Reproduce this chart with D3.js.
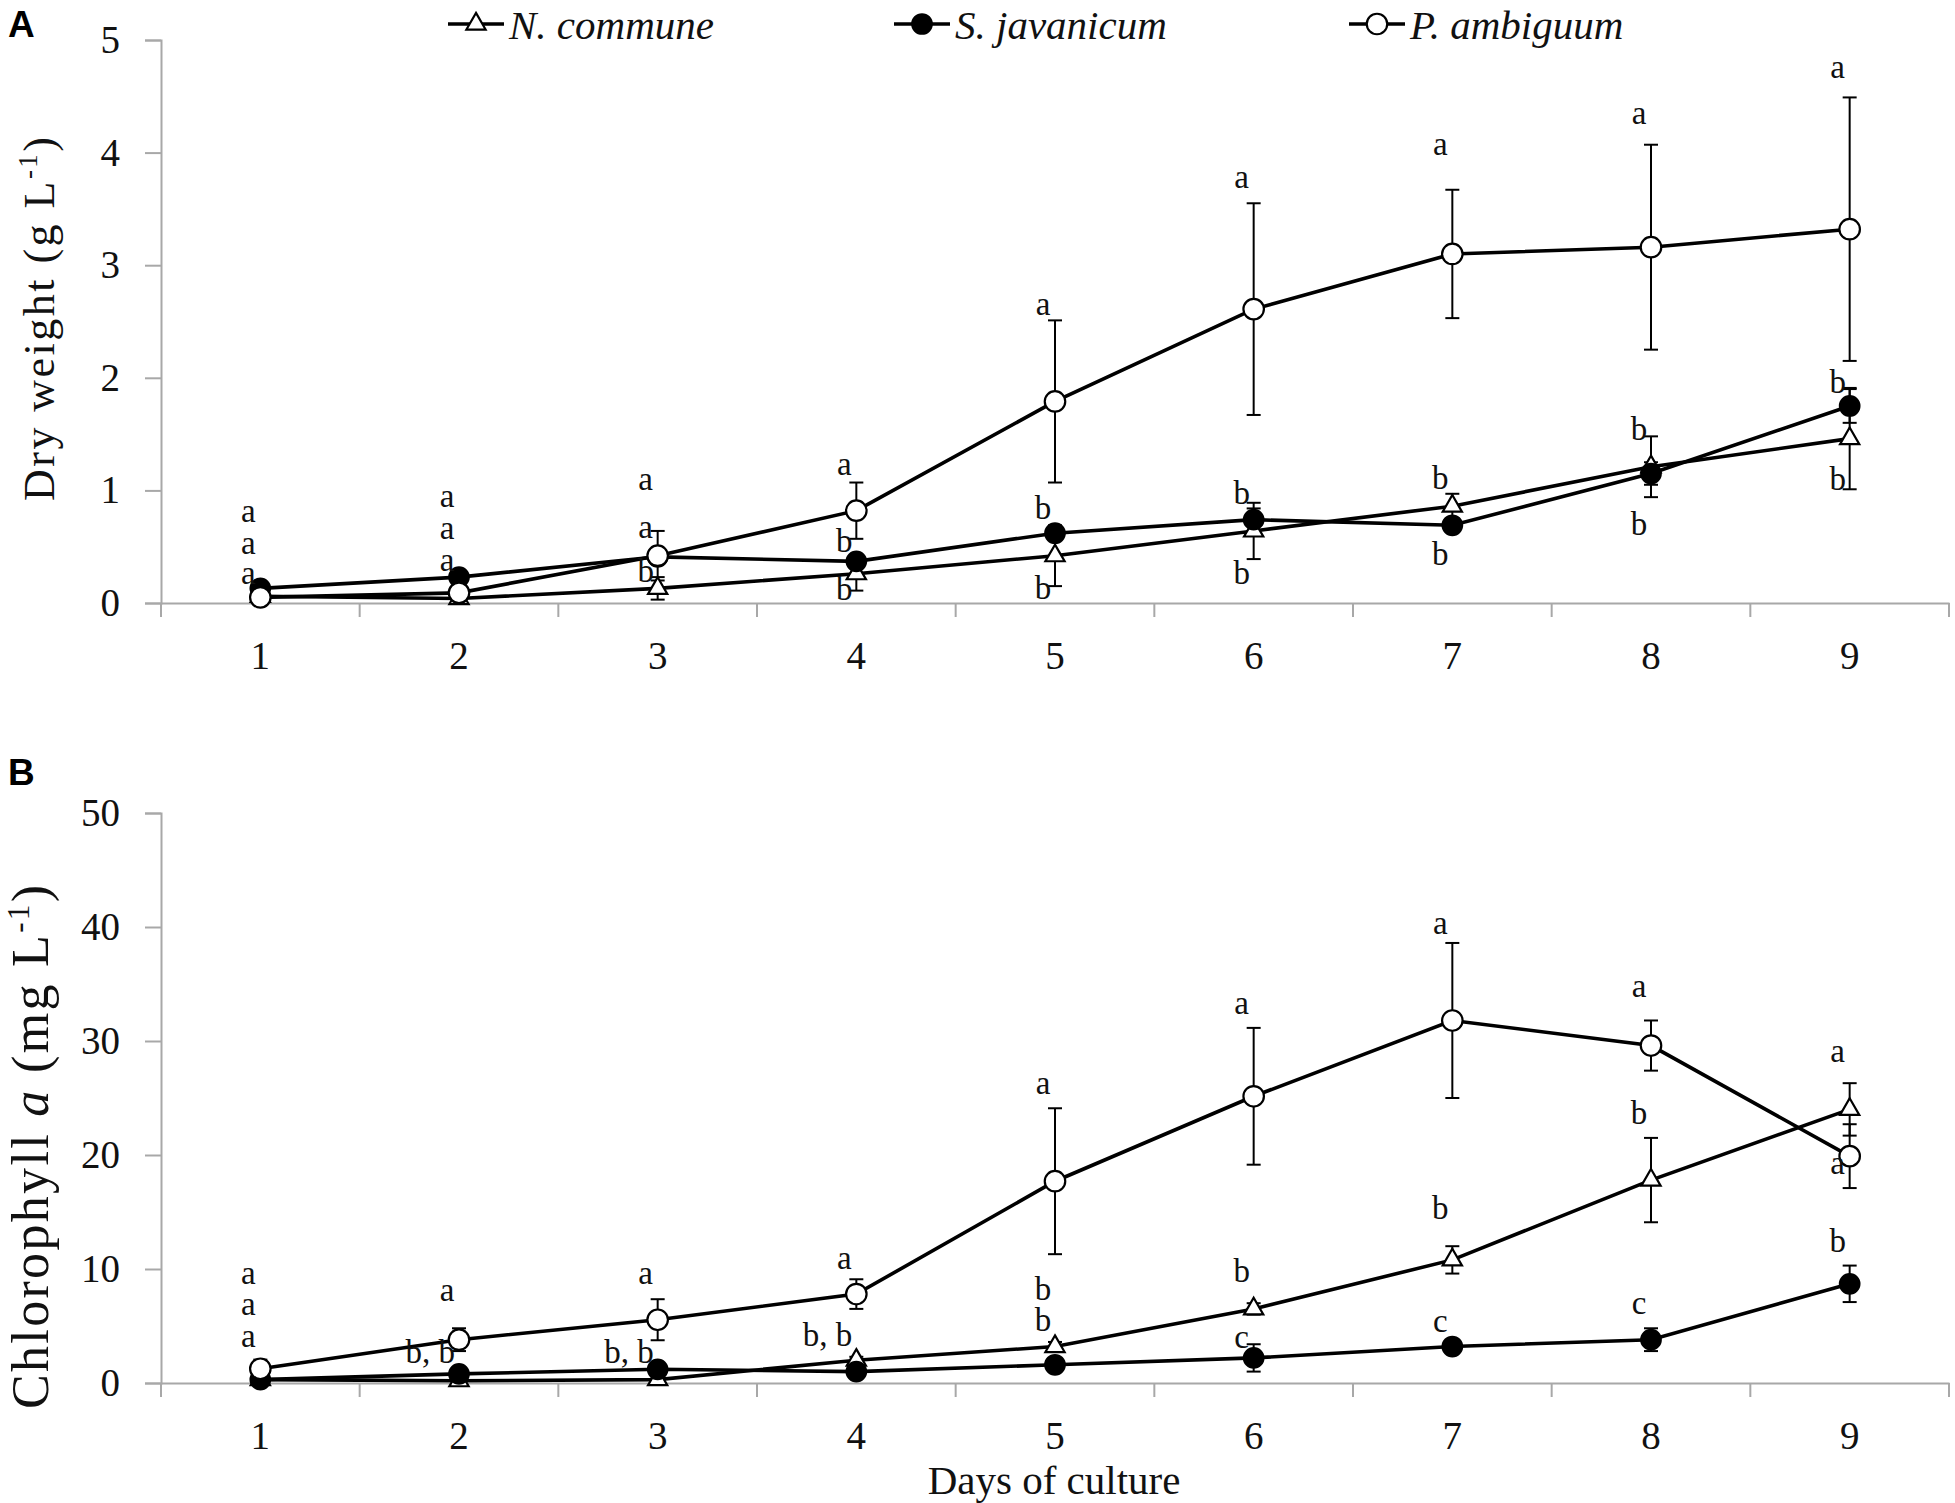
<!DOCTYPE html>
<html>
<head>
<meta charset="utf-8">
<script src="https://cdn.jsdelivr.net/npm/d3@7"></script>
<style>
  body { margin: 0; background: #fff; }
  svg { display: block; }
  .serif { font-family: "Liberation Serif", "Times New Roman", serif; }
</style>
</head>
<body>
<div id="chart"></div>
<script>
// Growth of three cyanobacteria over nine days of culture

// Data
const days = [1, 2, 3, 4, 5, 6, 7, 8, 9];
const species = ["N. commune", "S. javanicum", "P. ambiguum"];

// A: dry weight (g/L)
const dryNcommune    = [0.06, 0.04, 0.13, 0.26, 0.42, 0.64, 0.86, 1.21, 1.46];
const dryNcommuneErr = [0.02, 0.03, 0.10, 0.15, 0.27, 0.25, 0.11, 0.27, 0.45];
const drySjavanicum    = [0.13, 0.23, 0.41, 0.37, 0.62, 0.74, 0.69, 1.15, 1.75];
const drySjavanicumErr = [0.02, 0.03, 0.04, 0.05, 0.05, 0.10, 0.05, 0.10, 0.15];
const dryPambiguum    = [0.05, 0.09, 0.42, 0.82, 1.79, 2.61, 3.10, 3.16, 3.32];
const dryPambiguumErr = [0.03, 0.04, 0.22, 0.25, 0.72, 0.94, 0.57, 0.91, 1.17];

// B: chlorophyll a (mg/L)
const chlNcommune    = [0.3, 0.2, 0.3, 2.0, 3.2, 6.5, 10.8, 17.8, 24.0];
const chlNcommuneErr = [0.2, 0.2, 0.2, 0.3, 0.4, 0.5, 1.2, 3.7, 2.3];
const chlSjavanicum    = [0.3, 0.8, 1.2, 1.0, 1.6, 2.2, 3.2, 3.8, 8.7];
const chlSjavanicumErr = [0.2, 0.3, 0.3, 0.3, 0.3, 1.2, 0.4, 1.0, 1.6];
const chlPambiguum    = [1.25, 3.8, 5.55, 7.8, 17.7, 25.15, 31.8, 29.6, 19.9];
const chlPambiguumErr = [0.8, 1.0, 1.8, 1.3, 6.4, 6.0, 6.8, 2.2, 2.8];

// Tick labels
const ticksA = [0, 1, 2, 3, 4, 5];
const ticksB = [0, 10, 20, 30, 40, 50];

// Significance letters: [day, value level, letter]
const lettersA = [
  [1, 0.79, "a"], [1, 0.51, "a"], [1, 0.24, "a"],
  [2, 0.93, "a"], [2, 0.64, "a"], [2, 0.36, "a"],
  [3, 1.08, "a"], [3, 0.65, "a"], [3, 0.26, "b"],
  [4, 1.21, "a"], [4, 0.53, "b"], [4, 0.10, "b"],
  [5, 2.63, "a"], [5, 0.82, "b"], [5, 0.11, "b"],
  [6, 3.76, "a"], [6, 0.95, "b"], [6, 0.24, "b"],
  [7, 4.05, "a"], [7, 1.09, "b"], [7, 0.41, "b"],
  [8, 4.33, "a"], [8, 1.52, "b"], [8, 0.68, "b"],
  [9, 4.74, "a"], [9, 1.94, "b"], [9, 1.08, "b"]
];
const lettersB = [
  [1, 9.45, "a"], [1, 6.67, "a"], [1, 3.9, "a"],
  [2, 7.96, "a"], [2, 2.52, "b, b"],
  [3, 9.37, "a"], [3, 2.52, "b, b"],
  [4, 10.7, "a"], [4, 3.98, "b, b"],
  [5, 26.1, "a"], [5, 8.04, "b"], [5, 5.26, "b"],
  [6, 33.1, "a"], [6, 9.54, "b"], [6, 3.8, "c"],
  [7, 40.1, "a"], [7, 15.1, "b"], [7, 5.2, "c"],
  [8, 34.6, "a"], [8, 23.4, "b"], [8, 6.76, "c"],
  [9, 28.9, "a"], [9, 19.1, "a"], [9, 12.2, "b"]
];

// Dimensions
const width = 1955, height = 1503;
const marginLeft = 161, marginRight = 6;
const axisColor = "#a8a8a8";

const svg = d3.select("#chart")
  .append("svg")
    .attr("width", width)
    .attr("height", height)
    .attr("viewBox", [0, 0, width, height]);

const x = d3.scaleBand()
    .domain(days)
    .range([marginLeft, width - marginRight]);
const cx = d => x(d) + x.bandwidth() / 2;

function panel({top, bottom, max, ticks, series, letters, label, labelY, title, titlePos}) {
  const y = d3.scaleLinear().domain([0, max]).range([bottom, top]);
  const g = svg.append("g");

  // y axis
  g.append("g")
      .attr("transform", `translate(${marginLeft},0)`)
      .call(d3.axisLeft(y).tickValues(ticks).tickSize(16).tickPadding(25).tickFormat(d3.format("d")))
      .call(a => a.attr("font-family", null))
      .call(a => a.selectAll(".domain, .tick line").attr("stroke", axisColor).attr("stroke-width", 2))
      .call(a => a.selectAll("text").attr("class", "serif").attr("font-size", 39).attr("fill", "#111"));

  // x axis: labels at band centres, ticks at band edges
  g.append("g")
      .attr("transform", `translate(0,${bottom})`)
      .call(d3.axisBottom(x).tickSize(0).tickPadding(38))
      .call(a => a.attr("font-family", null))
      .call(a => a.select(".domain").attr("stroke", axisColor).attr("stroke-width", 2))
      .call(a => a.selectAll("text").attr("class", "serif").attr("font-size", 39).attr("fill", "#111"));
  g.append("g")
      .attr("stroke", axisColor)
      .attr("stroke-width", 2)
    .selectAll("line")
    .data(days.map(d => x(d)).concat([x.range()[1]]))
    .join("line")
      .attr("x1", d => d).attr("x2", d => d)
      .attr("y1", bottom).attr("y2", bottom + 14);

  // error bars
  series.forEach(s => {
    const eb = g.append("g").attr("stroke", "#000").attr("stroke-width", 2);
    s.values.forEach((v, i) => {
      const e = s.err[i], px = cx(days[i]);
      const y0 = y(Math.max(0, v - e)), y1 = y(v + e);
      eb.append("line").attr("x1", px).attr("x2", px).attr("y1", y0).attr("y2", y1);
      eb.append("line").attr("x1", px - 7).attr("x2", px + 7).attr("y1", y1).attr("y2", y1);
      if (v - e > 0)
        eb.append("line").attr("x1", px - 7).attr("x2", px + 7).attr("y1", y0).attr("y2", y0);
    });
  });

  // lines and markers
  const line = d3.line().x((d, i) => cx(days[i])).y(d => y(d));
  series.forEach(s => {
    g.append("path")
        .datum(s.values)
        .attr("fill", "none")
        .attr("stroke", "#000")
        .attr("stroke-width", 3.6)
        .attr("d", line);
  });
  series.forEach(s => {
    g.append("g")
      .selectAll("path")
      .data(s.values)
      .join("path")
        .attr("transform", (d, i) => `translate(${cx(days[i])},${y(d)})`)
        .attr("d", d3.symbol(s.symbol, s.size))
        .attr("fill", s.fill)
        .attr("stroke", "#000")
        .attr("stroke-width", 2.2);
  });

  // significance letters
  g.append("g")
      .attr("class", "serif")
      .attr("font-size", 33)
      .attr("fill", "#111")
    .selectAll("text")
    .data(letters)
    .join("text")
      .attr("x", d => d[2].length > 1 ? cx(d[0]) - 4 : cx(d[0]) - 12)
      .attr("y", d => y(d[1]))
      .attr("dy", "0.25em")
      .attr("text-anchor", d => d[2].length > 1 ? "end" : "middle")
      .text(d => d[2]);

  // panel letter
  svg.append("text")
      .attr("x", 8)
      .attr("y", labelY)
      .attr("font-family", "'Liberation Sans', Arial, sans-serif")
      .attr("font-weight", "bold")
      .attr("font-size", 37)
      .text(label);

  // y title
  const t = svg.append("text")
      .attr("class", "serif")
      .attr("transform", `translate(${titlePos.x},${titlePos.y}) rotate(-90)`)
      .attr("text-anchor", "middle")
      .attr("font-size", titlePos.size)
      .attr("fill", "#111");
  title(t);
  t.attr("textLength", titlePos.len).attr("lengthAdjust", "spacing");

  return y;
}

const mk = (values, err, symbol, fill, size) => ({values, err, symbol, fill, size});

panel({
  top: 40, bottom: 603, max: 5, ticks: ticksA,
  series: [
    mk(dryNcommune, dryNcommuneErr, d3.symbolTriangle, "#fff", 160),
    mk(drySjavanicum, drySjavanicumErr, d3.symbolCircle, "#000", 300),
    mk(dryPambiguum, dryPambiguumErr, d3.symbolCircle, "#fff", 330)
  ],
  letters: lettersA, label: "A", labelY: 37,
  titlePos: {x: 54, y: 319, len: 364, size: 44},
  title: t => {
    t.append("tspan").text("Dry  weight  (g  L");
    t.append("tspan").attr("font-size", 27).attr("dy", -17).text("-1");
    t.append("tspan").attr("dy", 17).text(")");
  }
});

panel({
  top: 813, bottom: 1383, max: 50, ticks: ticksB,
  series: [
    mk(chlNcommune, chlNcommuneErr, d3.symbolTriangle, "#fff", 160),
    mk(chlSjavanicum, chlSjavanicumErr, d3.symbolCircle, "#000", 300),
    mk(chlPambiguum, chlPambiguumErr, d3.symbolCircle, "#fff", 330)
  ],
  letters: lettersB, label: "B", labelY: 785,
  titlePos: {x: 48, y: 1147, len: 524, size: 52},
  title: t => {
    t.append("tspan").text("Chlorophyll ");
    t.append("tspan").attr("font-style", "italic").text("a");
    t.append("tspan").text(" (mg  L");
    t.append("tspan").attr("font-size", 31).attr("dy", -19).text("-1");
    t.append("tspan").attr("dy", 19).text(")");
  }
});

// x title
svg.append("text")
    .attr("class", "serif")
    .attr("x", 1054)
    .attr("y", 1494)
    .attr("text-anchor", "middle")
    .attr("font-size", 41)
    .attr("fill", "#111")
    .text("Days of culture");

// Legend
const legendX = [476, 922, 1377];
const legendMarks = [
  {symbol: d3.symbolTriangle, fill: "#fff", size: 160},
  {symbol: d3.symbolCircle, fill: "#000", size: 300},
  {symbol: d3.symbolCircle, fill: "#fff", size: 330}
];
const legend = svg.append("g");
species.forEach((name, i) => {
  const lx = legendX[i], ly = 24;
  legend.append("line")
      .attr("x1", lx - 28).attr("x2", lx + 28)
      .attr("y1", ly).attr("y2", ly)
      .attr("stroke", "#000").attr("stroke-width", 3.6);
  legend.append("path")
      .attr("transform", `translate(${lx},${ly})`)
      .attr("d", d3.symbol(legendMarks[i].symbol, legendMarks[i].size))
      .attr("fill", legendMarks[i].fill)
      .attr("stroke", "#000")
      .attr("stroke-width", 2.2);
  legend.append("text")
      .attr("class", "serif")
      .attr("x", lx + 33)
      .attr("y", 39)
      .attr("font-style", "italic")
      .attr("font-size", 41)
      .attr("fill", "#111")
      .text(name);
});
</script>
</body>
</html>
